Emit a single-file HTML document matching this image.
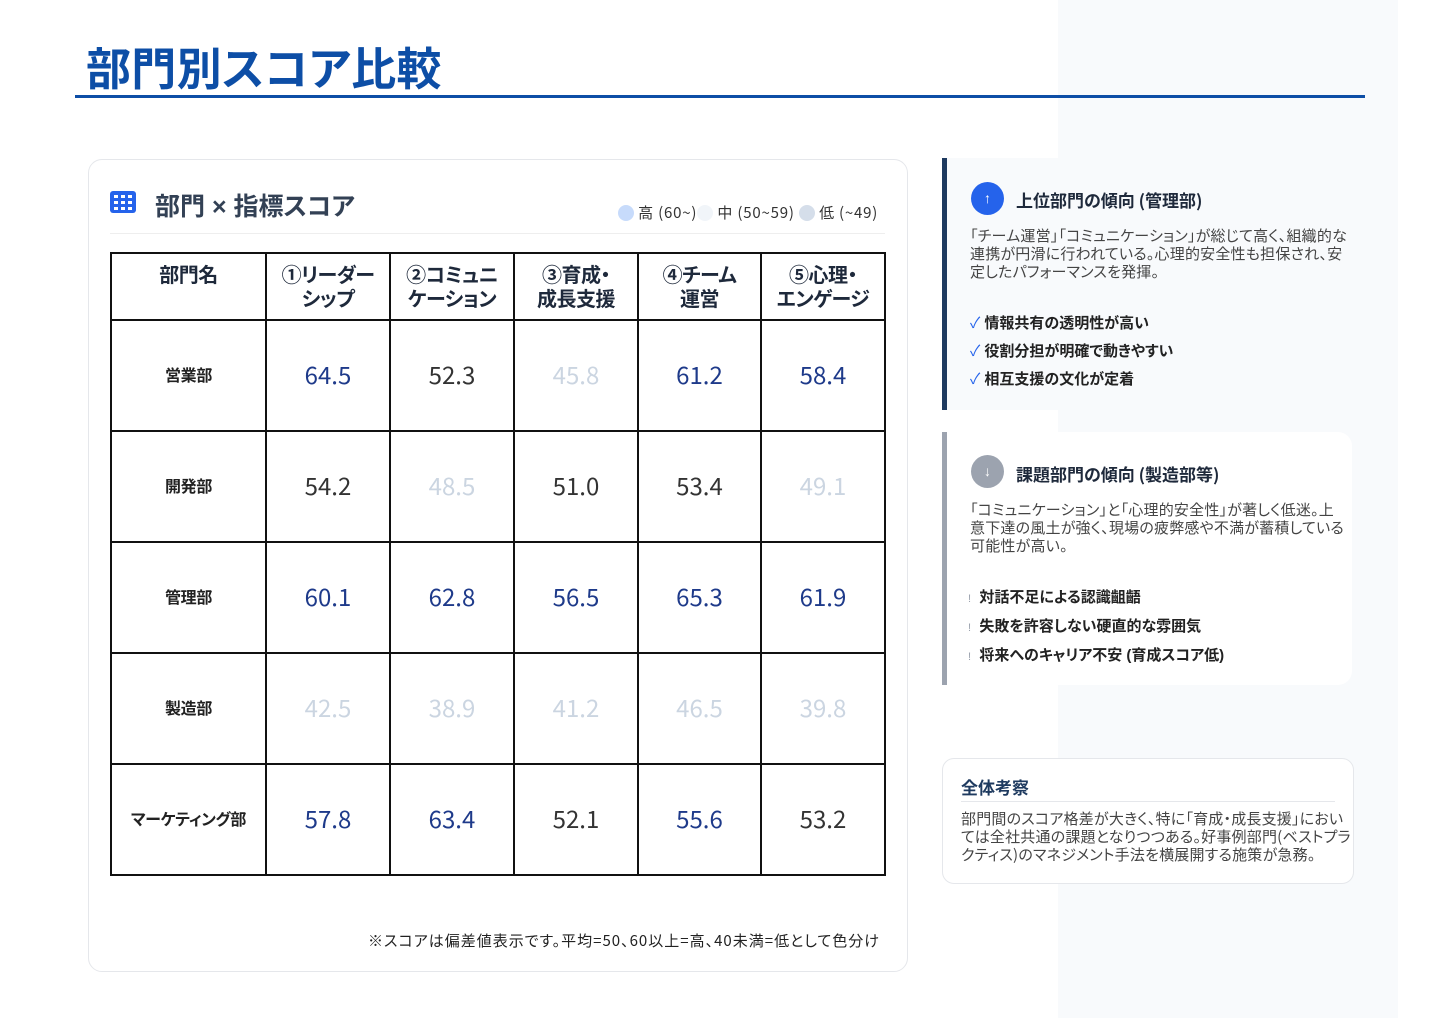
<!DOCTYPE html>
<html><head><meta charset="utf-8"><style>
*{margin:0;padding:0;box-sizing:border-box}
body{width:1440px;height:1018px;background:#fff;font-family:"Liberation Sans","Noto Sans CJK JP",sans-serif;position:relative;overflow:hidden;color:#333;font-feature-settings:"palt"}
.a{position:absolute}
.bgr{left:1058px;top:0;width:340px;height:1018px;background:#f8fafc}
h1{position:absolute;left:86px;top:33px;font-size:45px;font-weight:bold;color:#0d4ea6;letter-spacing:0.3px}
.rule{left:75px;top:95px;width:1290px;height:3px;background:#0d4ea6}
.card{left:88px;top:159px;width:820px;height:813px;border:1px solid #e5e7eb;border-radius:14px;background:#fff}
table{position:absolute;left:110px;top:252px;border-collapse:collapse;width:774px;table-layout:fixed}
td,th{border:2px solid #111;text-align:center}
th{height:67px;font-size:20px;font-weight:bold;color:#1e293b;line-height:24px;vertical-align:top;padding-top:8px;font-family:"Noto Sans CJK JP",sans-serif;letter-spacing:-0.5px}
td{height:111px;font-size:24px;font-family:"Noto Sans CJK JP",sans-serif;padding-bottom:4px}
td.n{font-size:16px;font-weight:bold;color:#222;letter-spacing:-0.3px}
.h{color:#1e3a8a}.m{color:#333}.l{color:#cbd5e1}
.ct{font-size:15px;line-height:18px;color:#444;font-family:"Noto Sans CJK JP",sans-serif;letter-spacing:0.2px}
.li{font-size:15px;font-weight:bold;color:#222}
</style></head><body>
<div class="a bgr"></div>
<h1>部門別スコア比較</h1>
<div class="a rule"></div>
<div class="a card"></div>
<svg class="a" style="left:110px;top:191px" width="26" height="22"><rect width="26" height="22" rx="3" fill="#2563eb"/><g fill="#fff"><rect x="4" y="4" width="4" height="3"/><rect x="11" y="4" width="4" height="3"/><rect x="18" y="4" width="4" height="3"/><rect x="4" y="10" width="4" height="3"/><rect x="11" y="10" width="4" height="3"/><rect x="18" y="10" width="4" height="3"/><rect x="4" y="16" width="4" height="3"/><rect x="11" y="16" width="4" height="3"/><rect x="18" y="16" width="4" height="3"/></g></svg>
<div class="a" style="left:155px;top:187px;font-size:25px;font-weight:bold;color:#334155">部門 × 指標スコア</div>
<div class="a" style="left:618px;top:202px;font-size:15px;letter-spacing:0.8px;color:#333;white-space:nowrap;font-family:'Noto Sans CJK JP',sans-serif"><span style="display:inline-block;width:16px;height:16px;border-radius:50%;background:#c7dbfb;vertical-align:-3px"></span> 高 (60~)<span style="display:inline-block;width:16px;height:16px;border-radius:50%;background:#f1f5f9;vertical-align:-3px"></span> 中 (50~59) <span style="display:inline-block;width:16px;height:16px;border-radius:50%;background:#d5deea;vertical-align:-3px"></span> 低 (~49)</div>
<div class="a" style="left:110px;top:233px;width:775px;height:1px;background:#eee"></div>
<table>
<colgroup><col style="width:155px"><col style="width:124px"><col style="width:124px"><col style="width:124px"><col style="width:123px"><col style="width:124px"></colgroup>
<tr><th>部門名</th><th>①リーダー<br>シップ</th><th>②コミュニ<br>ケーション</th><th>③育成・<br>成長支援</th><th>④チーム<br>運営</th><th>⑤心理・<br>エンゲージ</th></tr>
<tr><td class="n">営業部</td><td class="h">64.5</td><td class="m">52.3</td><td class="l">45.8</td><td class="h">61.2</td><td class="h">58.4</td></tr>
<tr><td class="n">開発部</td><td class="m">54.2</td><td class="l">48.5</td><td class="m">51.0</td><td class="m">53.4</td><td class="l">49.1</td></tr>
<tr><td class="n">管理部</td><td class="h">60.1</td><td class="h">62.8</td><td class="h">56.5</td><td class="h">65.3</td><td class="h">61.9</td></tr>
<tr><td class="n">製造部</td><td class="l">42.5</td><td class="l">38.9</td><td class="l">41.2</td><td class="l">46.5</td><td class="l">39.8</td></tr>
<tr><td class="n">マーケティング部</td><td class="h">57.8</td><td class="h">63.4</td><td class="m">52.1</td><td class="h">55.6</td><td class="m">53.2</td></tr>
</table>
<div class="a" style="left:368px;top:930px;font-size:15px;letter-spacing:1px;color:#222;font-family:'Noto Sans CJK JP',sans-serif;white-space:nowrap">※スコアは偏差値表示です。平均=50、60以上=高、40未満=低として色分け</div>

<div class="a" style="left:942px;top:158px;width:410px;height:252px;background:#f8fafc;border-left:5px solid #1e3a5f;border-radius:0 14px 14px 0"></div>
<div class="a" style="left:971px;top:182px;width:33px;height:33px;border-radius:50%;background:#2563eb;color:#fff;text-align:center;line-height:33px;font-size:14px">↑</div>
<div class="a" style="left:1016px;top:187px;font-size:17px;font-weight:bold;color:#1e293b;font-family:'Noto Sans CJK JP',sans-serif">上位部門の傾向 (管理部)</div>
<div class="a ct" style="left:970px;top:227px;width:385px">「チーム運営」「コミュニケーション」が総じて高く、組織的な連携が円滑に行われている。心理的安全性も担保され、安定したパフォーマンスを発揮。</div>
<div class="a li" style="left:970px;top:310px;line-height:28px"><span style="color:#2563eb;font-weight:normal">✓</span> 情報共有の透明性が高い<br><span style="color:#2563eb;font-weight:normal">✓</span> 役割分担が明確で動きやすい<br><span style="color:#2563eb;font-weight:normal">✓</span> 相互支援の文化が定着</div>

<div class="a" style="left:942px;top:432px;width:410px;height:253px;background:#fff;border-left:5px solid #9ca3af;border-radius:0 14px 14px 0"></div>
<div class="a" style="left:971px;top:455px;width:33px;height:33px;border-radius:50%;background:#9ca3af;color:#fff;text-align:center;line-height:33px;font-size:14px">↓</div>
<div class="a" style="left:1016px;top:461px;font-size:17px;font-weight:bold;color:#1e293b;font-family:'Noto Sans CJK JP',sans-serif">課題部門の傾向 (製造部等)</div>
<div class="a ct" style="left:970px;top:501px;width:375px">「コミュニケーション」と「心理的安全性」が著しく低迷。上意下達の風土が強く、現場の疲弊感や不満が蓄積している可能性が高い。</div>
<div class="a li" style="left:968px;top:584px;line-height:28px"><span style="color:#9ca3af;font-weight:normal;font-size:11px">!</span>&nbsp; 対話不足による認識齟齬<br><span style="color:#9ca3af;font-weight:normal;font-size:11px">!</span>&nbsp; 失敗を許容しない硬直的な雰囲気<br><span style="color:#9ca3af;font-weight:normal;font-size:11px">!</span>&nbsp; 将来へのキャリア不安 (育成スコア低)</div>

<div class="a" style="left:942px;top:758px;width:412px;height:126px;background:#fff;border:1px solid #e5e7eb;border-radius:12px"></div>
<div class="a" style="left:961px;top:774px;font-size:17px;font-weight:bold;color:#1e3a5f;font-family:'Noto Sans CJK JP',sans-serif">全体考察</div>
<div class="a" style="left:961px;top:801px;width:374px;height:1px;background:#e5e7eb"></div>
<div class="a ct" style="left:961px;top:810px;width:392px">部門間のスコア格差が大きく、特に「育成・成長支援」においては全社共通の課題となりつつある。好事例部門(ベストプラクティス)のマネジメント手法を横展開する施策が急務。</div>
</body></html>
